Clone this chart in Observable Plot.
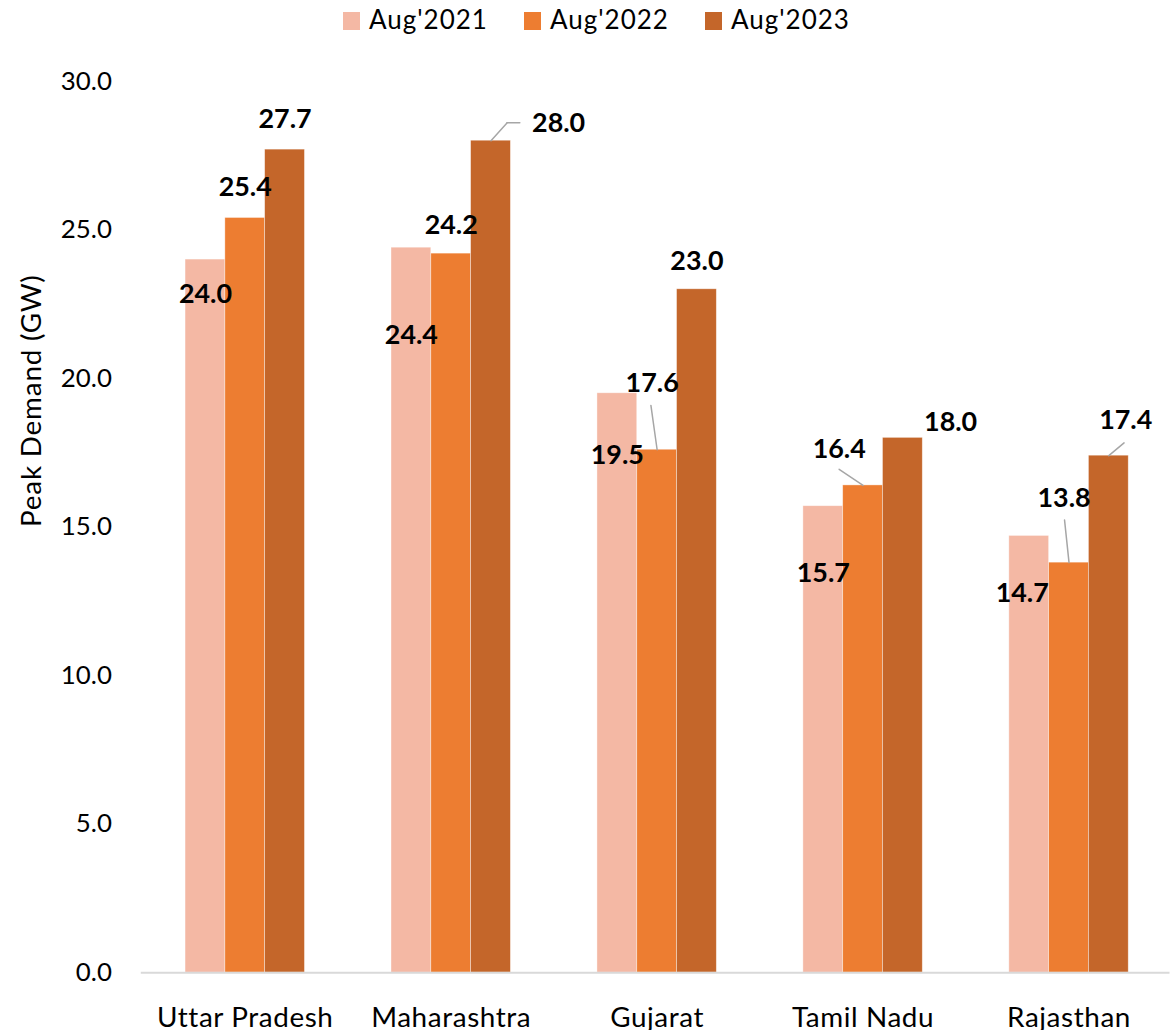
<!DOCTYPE html>
<html>
<head>
<meta charset="utf-8">
<script src="https://cdn.jsdelivr.net/npm/d3@7"></script>
<script src="https://cdn.jsdelivr.net/npm/@observablehq/plot@0.6"></script>
<style>
  html, body { margin: 0; padding: 0; background: #fff; overflow: hidden; }
  #legend {
    position: relative; height: 36px; padding-top: 4px;
    font-family: Lato, "Open Sans", sans-serif; font-size: 26px; line-height: 1.2; color: #000;
  }
  .item { position: absolute; top: 4px; display: flex; align-items: flex-start; letter-spacing: 1px; }
  .swatch { width: 17px; height: 18px; margin-top: 8px; margin-right: 9px; }
  #chart svg { display: block; }
  #chart svg [aria-label="fx-axis tick label"] text { letter-spacing: 0.6px; }
  #chart svg .ytitle text { letter-spacing: 0.8px; }
</style>
</head>
<body>
<div id="legend"></div>
<div id="chart"></div>
<script>
// Peak electricity demand (GW) by state, August of each year
const states = ["Uttar Pradesh", "Maharashtra", "Gujarat", "Tamil Nadu", "Rajasthan"];
const seriesNames = ["Aug'2021", "Aug'2022", "Aug'2023"];
const aug2021 = [24.0, 24.4, 19.5, 15.7, 14.7];
const aug2022 = [25.4, 24.2, 17.6, 16.4, 13.8];
const aug2023 = [27.7, 28.0, 23.0, 18.0, 17.4];
const yTicks = [0, 5, 10, 15, 20, 25, 30];
const colors = ["#F4B8A4", "#ED7D31", "#C4662A"];

// Label nudges (px) from the top centre of each bar, per state and series
const labelDx = [[0, 0, 0], [0, 0, 68], [0, -5, 0], [0, -24, 48], [-7, -5, 17]];
const labelDy = [[35, -31, -30], [88, -28, -17], [62, -67, -28], [68, -36, -16], [58, -65, -35]];

// Leader lines from bar tops to displaced labels: length (px), angle (deg), start nudge
const leaderSegments = [
  {state: "Maharashtra", series: "Aug'2023", len: 24, angle: 42, dx: 0, dy: 0},
  {state: "Maharashtra", series: "Aug'2023", len: 13, angle: 90, dx: 16, dy: -18},
  {state: "Gujarat", series: "Aug'2022", len: 45, angle: -8, dx: 0, dy: 0},
  {state: "Tamil Nadu", series: "Aug'2022", len: 29, angle: -56, dx: 0, dy: 0},
  {state: "Rajasthan", series: "Aug'2022", len: 43, angle: -6, dx: 0, dy: 0},
  {state: "Rajasthan", series: "Aug'2023", len: 20, angle: 50, dx: 0, dy: 0}
];

const seriesValues = [aug2021, aug2022, aug2023];
const rows = states.flatMap((state, i) => seriesNames.map((series, j) => ({
  state, series, value: seriesValues[j][i], dx: labelDx[i][j], dy: labelDy[i][j]
})));
const valueOf = (state, series) => rows.find(r => r.state === state && r.series === series).value;

// legend
const legendLeft = [343, 524, 705];
const legend = document.getElementById("legend");
seriesNames.forEach((name, j) => {
  const item = document.createElement("div");
  item.className = "item";
  item.style.left = legendLeft[j] + "px";
  const sw = document.createElement("span");
  sw.className = "swatch";
  sw.style.background = colors[j];
  const label = document.createElement("span");
  label.textContent = name;
  item.append(sw, label);
  legend.append(item);
});

const lineShape = {draw(context, l) { context.moveTo(0, 0); context.lineTo(0, -l); }};

const chart = Plot.plot({
  width: 1179,
  height: 995,
  marginLeft: 141,
  marginRight: 0,
  marginTop: 41,
  marginBottom: 58,
  style: {fontFamily: "Lato, 'Open Sans', sans-serif", fontSize: "26px", color: "#000", background: "transparent", overflow: "visible"},
  fx: {domain: states, paddingInner: 0.422, paddingOuter: 0.211, label: null},
  x: {domain: seriesNames, padding: 0, axis: null},
  y: {domain: [0, 30], label: null},
  color: {domain: seriesNames, range: colors},
  marks: [
    Plot.barY(rows, {fx: "state", x: "series", y: "value", fill: "series", stroke: "white", strokeWidth: 0.75, strokeOpacity: 0.5}),
    // category axis baseline across the whole plot width
    Plot.frame({anchor: "bottom", stroke: "#D9D9D9", strokeWidth: 2, facet: "super", insetLeft: -44, insetRight: -40}),
    Plot.axisFx({anchor: "bottom", tickSize: 0, tickPadding: 35, label: null, fontSize: 28}),
    Plot.axisY(yTicks, {anchor: "left", tickSize: 0, tickPadding: 74, tickFormat: d3.format(".1f"), label: null}),
    Plot.text(["Peak Demand (GW)"], {text: d => d, frameAnchor: "left", rotate: -90, dx: -154, fontSize: 28, facet: "super", className: "ytitle"}),
    ...leaderSegments.map(s => Plot.vector([s], {
      fx: "state", x: "series", y: () => valueOf(s.state, s.series),
      length: s.len, rotate: s.angle, anchor: "start", shape: lineShape,
      stroke: "#A6A6A6", strokeWidth: 1.5, dx: s.dx, dy: s.dy
    })),
    ...rows.map(r => Plot.text([r], {
      fx: "state", x: "series", y: "value", text: d => d.value.toFixed(1),
      dx: r.dx, dy: r.dy, fontWeight: "bold", fontSize: 27, fill: "#000"
    }))
  ]
});
document.getElementById("chart").append(chart);
</script>
</body>
</html>
